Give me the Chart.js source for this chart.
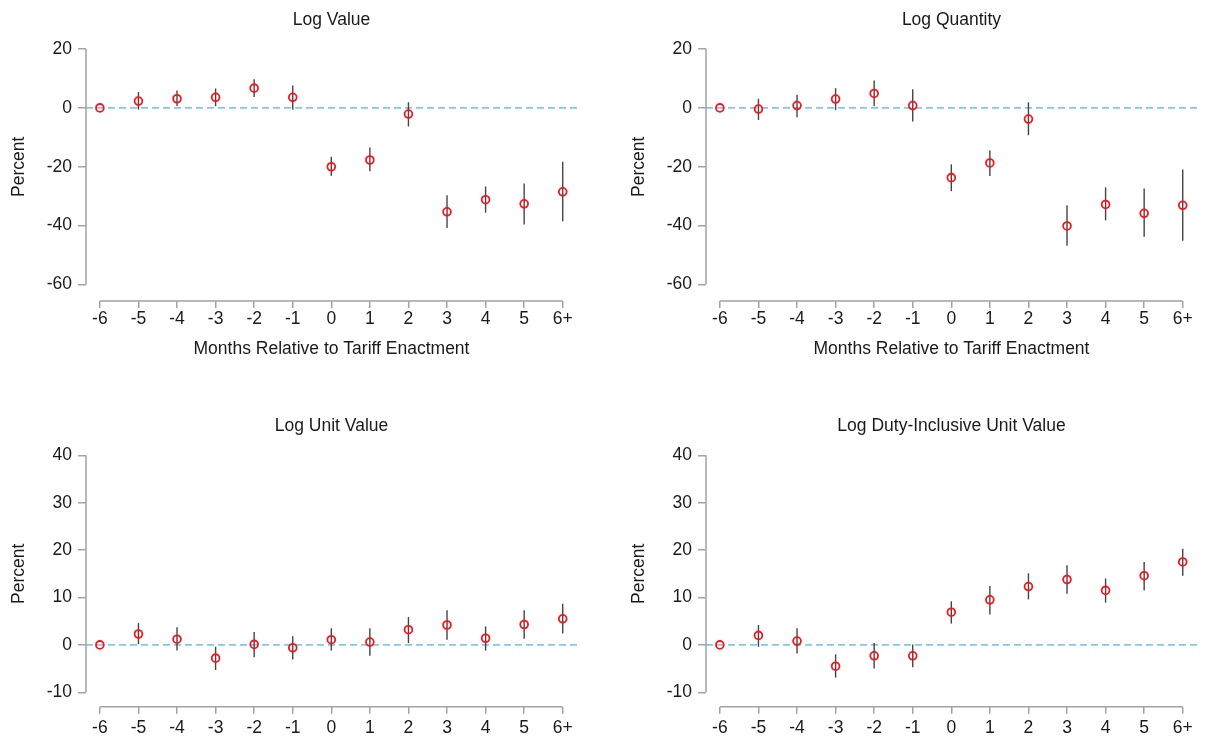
<!DOCTYPE html>
<html><head><meta charset="utf-8">
<script src="https://cdn.jsdelivr.net/npm/chart.js@4.4.1/dist/chart.umd.min.js"></script>
<style>
html,body{margin:0;padding:0;background:#fff;overflow:hidden;width:1206px;height:740px;position:relative;}
canvas{position:absolute;}
</style></head><body>
<canvas id="c1" width="620" height="370" style="left:0;top:0"></canvas>
<canvas id="c2" width="620" height="370" style="left:620px;top:0"></canvas>
<canvas id="c3" width="620" height="340" style="left:0;top:400px"></canvas>
<canvas id="c4" width="620" height="340" style="left:620px;top:400px"></canvas>
<script>
// ---- data ----
const months = [-6, -5, -4, -3, -2, -1, 0, 1, 2, 3, 4, 5, 6];
const monthLabels = ['-6', '-5', '-4', '-3', '-2', '-1', '0', '1', '2', '3', '4', '5', '6+'];
const topYTicks = [20, 0, -20, -40, -60];
const bottomYTicks = [40, 30, 20, 10, 0, -10];

const valueEst = [0, 2.3, 3.1, 3.6, 6.7, 3.6, -20.0, -17.7, -2.1, -35.3, -31.2, -32.6, -28.5];
const valueLo  = [null, -0.6, 0.6, 0.6, 3.7, -0.6, -23.1, -21.5, -6.3, -40.8, -35.6, -39.6, -38.5];
const valueHi  = [null, 5.4, 5.9, 6.6, 9.7, 7.6, -16.6, -13.5, 1.9, -29.7, -26.7, -25.7, -18.3];

const qtyEst = [0, -0.4, 0.8, 3.0, 4.9, 0.8, -23.7, -18.7, -3.8, -40.1, -32.8, -35.8, -33.1];
const qtyLo  = [null, -4.1, -3.2, -0.8, 0.6, -4.6, -28.3, -23.1, -9.3, -46.8, -38.2, -43.8, -45.1];
const qtyHi  = [null, 3.1, 4.5, 6.7, 9.3, 6.3, -19.2, -14.5, 1.9, -33.1, -27.0, -27.4, -20.9];

const uvEst = [0, 2.3, 1.2, -2.8, 0.1, -0.6, 1.1, 0.6, 3.2, 4.2, 1.4, 4.3, 5.5];
const uvLo  = [null, 0.0, -1.2, -5.3, -2.6, -3.1, -1.2, -2.3, 0.4, 1.1, -1.2, 1.3, 2.4];
const uvHi  = [null, 4.6, 3.7, -0.4, 2.7, 1.8, 3.5, 3.5, 5.9, 7.3, 3.9, 7.3, 8.7];

const duvEst = [0, 2.0, 0.8, -4.5, -2.3, -2.3, 6.9, 9.5, 12.3, 13.8, 11.5, 14.6, 17.5];
const duvLo  = [null, -0.4, -1.8, -6.9, -5.0, -4.7, 4.5, 6.4, 9.6, 10.8, 8.9, 11.5, 14.6];
const duvHi  = [null, 4.2, 3.5, -2.0, 0.4, 0.1, 9.2, 12.4, 15.1, 16.8, 14.0, 17.5, 20.3];

const refValue = 0;

// ---- styles ----
const FONT = "'Liberation Sans', Arial, Helvetica, sans-serif";
const TXT = '#1a1a1a';
const AXIS = '#a3a3a3';

const stataAxes = {
  id: 'stataAxes',
  beforeDatasetsDraw(chart, args, opts) {
    const {ctx, chartArea, scales: {y}} = chart;
    const y0 = y.getPixelForValue(opts.refValue);
    ctx.save();
    ctx.strokeStyle = '#84c7ec';
    ctx.lineWidth = 1.7;
    ctx.setLineDash([7, 4]);
    ctx.beginPath();
    ctx.moveTo(chartArea.left, y0);
    ctx.lineTo(chartArea.right, y0);
    ctx.stroke();
    ctx.restore();
  },
  afterDraw(chart, args, opts) {
    const {ctx, chartArea, scales: {x, y}} = chart;
    const xv = x.ticks.map(t => t.value), yv = y.ticks.map(t => t.value);
    ctx.save();
    ctx.strokeStyle = AXIS;
    ctx.lineWidth = 1.5;
    ctx.beginPath();
    ctx.moveTo(chartArea.left, y.getPixelForValue(Math.max(...yv)));
    ctx.lineTo(chartArea.left, y.getPixelForValue(Math.min(...yv)));
    ctx.moveTo(x.getPixelForValue(Math.min(...xv)), chartArea.bottom);
    ctx.lineTo(x.getPixelForValue(Math.max(...xv)), chartArea.bottom);
    ctx.stroke();
    // y title centred on the axis line
    const yc = (y.getPixelForValue(Math.max(...yv)) + y.getPixelForValue(Math.min(...yv))) / 2;
    ctx.translate(opts.yTitleX, yc);
    ctx.rotate(-Math.PI / 2);
    ctx.fillStyle = TXT;
    ctx.font = "17.5px " + FONT;
    ctx.textAlign = 'center';
    ctx.textBaseline = 'middle';
    ctx.fillText(opts.yTitle, 0, 0);
    ctx.restore();
  }
};

function makeChart(id, cfg) {
  const points = months.map((m, i) => ({x: m, y: cfg.est[i]}));
  const bars = months.map((m, i) => cfg.lo[i] == null ? null : {x: m, y: [cfg.lo[i], cfg.hi[i]]}).filter(d => d);
  new Chart(document.getElementById(id), {
    type: 'scatter',
    data: {
      datasets: [
        {
          type: 'scatter', data: points, order: 0, showLine: false, clip: false,
          pointRadius: 3.9, pointBorderWidth: 1.8, pointBorderColor: '#f8141c',
          pointBackgroundColor: 'rgba(0,0,0,0)', pointHoverRadius: 3.9
        },
        {
          type: 'bar', data: bars, order: 1, barThickness: 1.4, inflateAmount: 0,
          backgroundColor: '#444444', borderWidth: 0, grouped: false, clip: false
        }
      ]
    },
    options: {
      responsive: false, animation: false, devicePixelRatio: 1,
      layout: {padding: {left: 0, right: 43, top: 0, bottom: 0}},
      plugins: {
        legend: {display: false}, tooltip: {enabled: false},
        title: {
          display: true, text: cfg.title, fullSize: false, color: TXT,
          font: {family: FONT, size: 17.5, weight: 'normal'},
          padding: {top: cfg.titlePadTop, bottom: cfg.titlePadBottom}
        },
        stataAxes: {refValue: refValue, yTitle: 'Percent', yTitleX: 19}
      },
      scales: {
        x: {
          type: 'linear', min: -6.36, max: 6.37, offset: false,
          afterBuildTicks: s => { s.ticks = months.map(v => ({value: v})); },
          afterFit: s => { s.height = cfg.xHeight; },
          border: {display: false},
          grid: {offset: false, drawOnChartArea: false, drawTicks: true, tickLength: 7, color: AXIS, lineWidth: 1.5},
          ticks: {
            autoSkip: false, maxRotation: 0, padding: cfg.xTickPad, color: TXT,
            font: {family: FONT, size: 17.5},
            callback: v => monthLabels[months.indexOf(v)]
          },
          title: {
            display: cfg.xTitle, text: 'Months Relative to Tariff Enactment', color: TXT,
            font: {family: FONT, size: 17.5}, padding: {top: 0, bottom: 10.5}
          }
        },
        y: {
          type: 'linear', min: cfg.yMin, max: cfg.yMax,
          afterBuildTicks: s => { s.ticks = cfg.yTicks.map(v => ({value: v})); },
          afterFit: s => { s.width = 86; },
          border: {display: false},
          grid: {drawOnChartArea: false, drawTicks: true, tickLength: 8, color: AXIS, lineWidth: 1.5},
          ticks: {
            autoSkip: false, padding: 6, color: TXT, font: {family: FONT, size: 17.5},
            callback: v => String(v)
          }
        }
      }
    },
    plugins: [stataAxes]
  });
}

const topCfg = {yMin: -65.6, yMax: 20, yTicks: topYTicks, xHeight: 69, xTickPad: 1, xTitle: true, titlePadTop: 9.5, titlePadBottom: 18.5};
const botCfg = {yMin: -13.04, yMax: 40, yTicks: bottomYTicks, xHeight: 33.3, xTickPad: 4, xTitle: false, titlePadTop: 15.5, titlePadBottom: 18.8};

makeChart('c1', Object.assign({}, topCfg, {title: 'Log Value', est: valueEst, lo: valueLo, hi: valueHi}));
makeChart('c2', Object.assign({}, topCfg, {title: 'Log Quantity', est: qtyEst, lo: qtyLo, hi: qtyHi}));
makeChart('c3', Object.assign({}, botCfg, {title: 'Log Unit Value', est: uvEst, lo: uvLo, hi: uvHi}));
makeChart('c4', Object.assign({}, botCfg, {title: 'Log Duty-Inclusive Unit Value', est: duvEst, lo: duvLo, hi: duvHi}));
</script>
</body></html>
